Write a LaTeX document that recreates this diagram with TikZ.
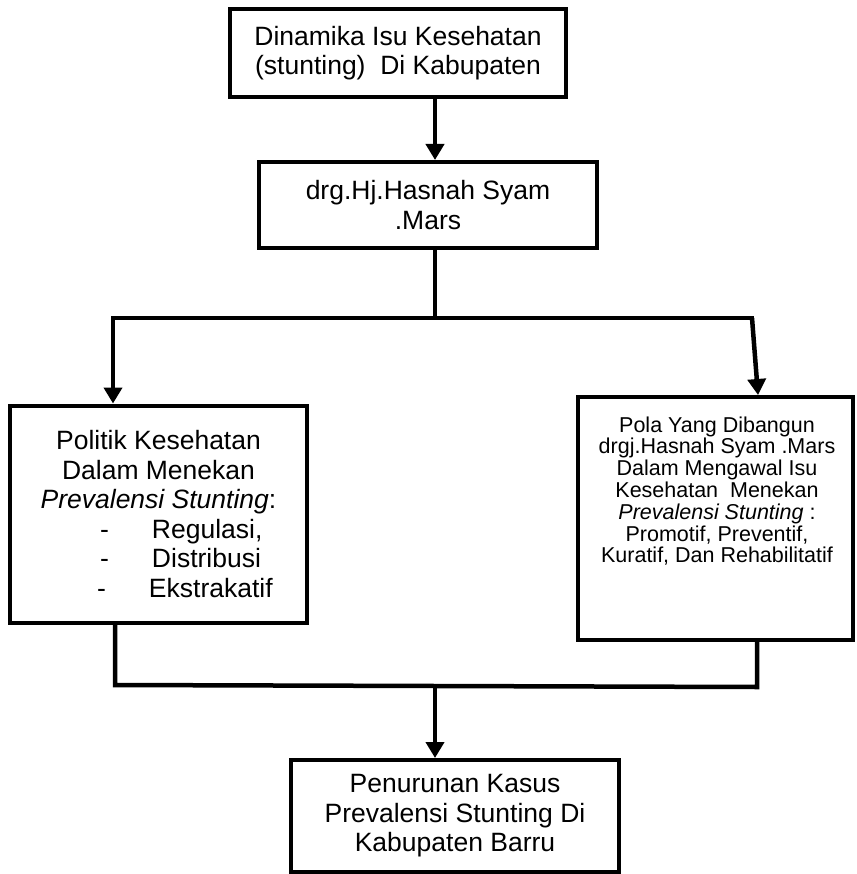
\documentclass[tikz,border=0pt]{standalone}
\usepackage{fontspec}
\setmainfont{Liberation Sans}
\usetikzlibrary{arrows.meta}
\newcommand\fbig{\fontsize{26.5}{29.5}\selectfont}
\newcommand\fsml{\fontsize{21.5}{21.8}\selectfont}
\begin{document}
\begin{tikzpicture}[x=1pt,y=-1pt,
  box/.style={draw=black, line width=4pt, fill=white, inner sep=0pt, align=center, font=\fbig},
  conn/.style={draw=black, line width=4.5pt, line join=miter},
  arr/.style={conn, -{Triangle[length=16pt,width=18pt]}}]
\useasboundingbox (0,0) rectangle (856,874);
% boxes
\node[box, minimum width=336pt, minimum height=88pt] (b1) at (398,53)
  {Dinamika Isu Kesehatan\\(stunting)~ Di Kabupaten};
\node[box, minimum width=338pt, minimum height=86pt] (b2) at (428,205)
  {drg.Hj.Hasnah Syam\\.Mars};
\node[box, minimum width=297pt, minimum height=217pt] (lbox) at (158.5,514)
  {Politik Kesehatan\\Dalam Menekan\\\textit{Prevalensi Stunting}:\\
   \hspace*{53pt}\makebox[170pt][l]{\makebox[52pt][l]{-}Regulasi,}\\
   \hspace*{53pt}\makebox[170pt][l]{\makebox[52pt][l]{-}Distribusi}\\
   \hspace*{47pt}\makebox[170pt][l]{\makebox[52pt][l]{-}Ekstrakatif}};
\node[box, minimum width=275pt, minimum height=243pt] (rbox) at (715.5,518.5) {};
\node[font=\fsml, align=center, inner sep=0pt] (rtext) at (717,491)
  {Pola Yang Dibangun\\drgj.Hasnah Syam .Mars\\ Dalam Mengawal Isu\\Kesehatan~ Menekan\\
   \textit{Prevalensi Stunting} :\\Promotif, Preventif,\\Kuratif, Dan Rehabilitatif};
\node[box, minimum width=328pt, minimum height=112pt] (bbox) at (455,816)
  {Penurunan Kasus\\Prevalensi Stunting Di\\Kabupaten Barru};
% junction points
\coordinate (j1) at (435,318);
\coordinate (jl) at (113,318);
\coordinate (jr) at (752,318);
\coordinate (k1) at (115,685);
\coordinate (k2) at (757,687);
\coordinate (k0) at (435,686);
% connectors
\draw[arr] ([xshift=37pt]b1.south) -- ([xshift=7pt]b2.north);
\draw[conn] ([xshift=7pt]b2.south) -- (j1);
\draw[conn] ([xshift=-2pt]jl) -- ([xshift=2pt]jr);
\draw[arr] (jl) -- (jl |- lbox.north);
\draw[arr] (jr) -- ([xshift=42.5pt]rbox.north);
\draw[conn] (k1 |- lbox.south) -- (k1) -- (k2) -- (k2 |- rbox.south);
\draw[arr] (k0) -- (k0 |- bbox.north);
\end{tikzpicture}
\end{document}
